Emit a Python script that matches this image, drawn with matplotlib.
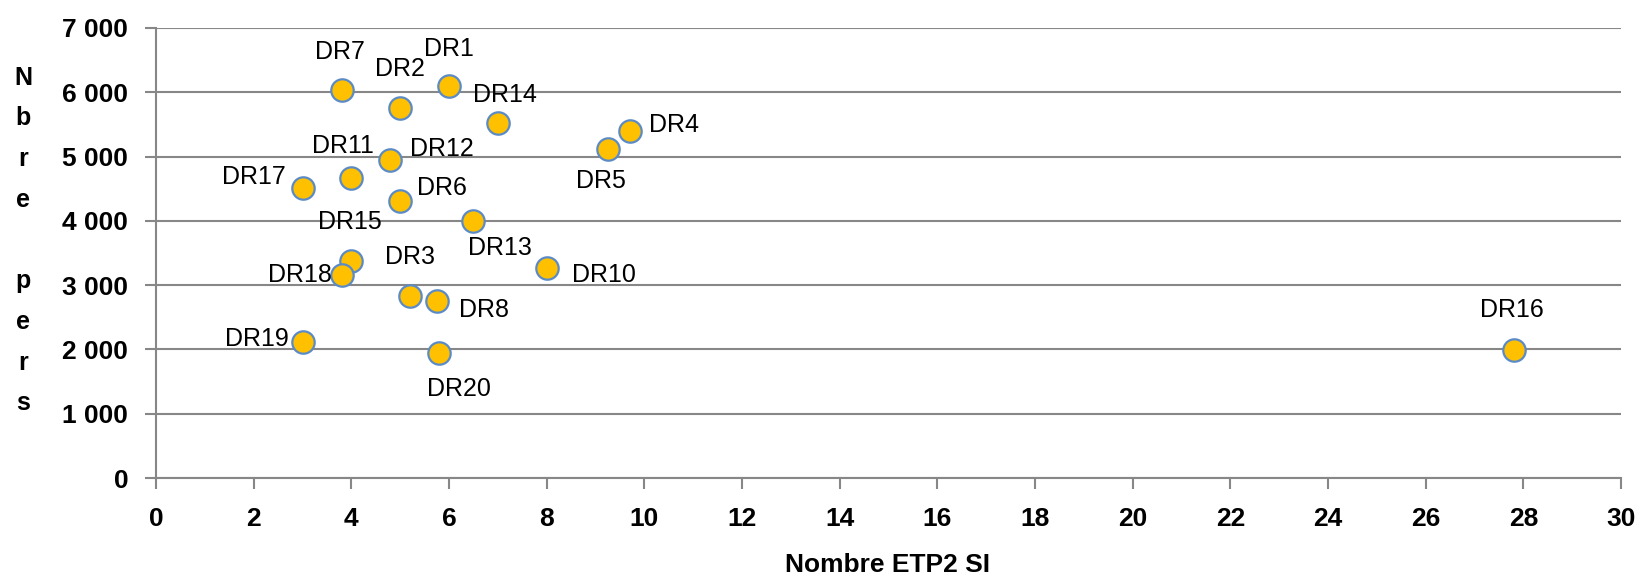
import matplotlib
matplotlib.use("Agg")
import matplotlib.pyplot as plt
from matplotlib.ticker import FuncFormatter

# data
labels = ["DR7", "DR1", "DR2", "DR14", "DR4", "DR5", "DR12", "DR11", "DR17", "DR6",
          "DR13", "DR15", "DR18", "DR3", "DR8", "DR10", "DR19", "DR20", "DR16"]
etp = [3.8, 6.0, 5.0, 7.0, 9.7, 9.25, 4.8, 4.0, 3.0, 5.0,
       6.5, 4.0, 3.8, 5.2, 5.75, 8.0, 3.0, 5.8, 27.8]
pers = [6040, 6090, 5760, 5520, 5390, 5110, 4950, 4660, 4510, 4310,
        3990, 3370, 3150, 2830, 2750, 3270, 2120, 1940, 1990]

# label offsets (points) from each marker
label_dx = [-1, 0, 0, 5, 32, -5, 37, -6, -35, 30, 19, -1, -30, 0, 34, 41, -33, 14, -1]
label_dy = [27, 27, 28, 20, 5, -23, 8, 23, 8, 9, -19, 28, 0, 28, -6, -5, 2, -26, 29]

plt.rcParams['font.family'] = ["Liberation Sans", "DejaVu Sans"]

GRID = "#878787"

fig = plt.figure(figsize=(16.41, 5.78), dpi=100)
ax = fig.add_axes([0.0951, 0.173, 0.8927, 0.7786])

ax.scatter(etp, pers, s=260, color="#FFC000", edgecolors="#5B8BC7",
           linewidths=1.6, zorder=3)

for name, x, y, dx, dy in zip(labels, etp, pers, label_dx, label_dy):
    ax.annotate(name, (x, y), xytext=(dx, dy), textcoords="offset points",
                ha="center", va="center", fontsize=18, color="black", zorder=4)

ax.set_xlim(0, 30)
ax.set_ylim(0, 7000)
ax.set_xticks(range(0, 31, 2))
ax.set_yticks(range(0, 7001, 1000))
ax.yaxis.set_major_formatter(FuncFormatter(lambda v, p: f"{int(v):,}".replace(",", " ")))

ax.grid(axis="y", color=GRID, linewidth=1.5, zorder=0)
ax.set_axisbelow(True)
for side in ["top", "right"]:
    ax.spines[side].set_visible(False)
for side in ["left", "bottom"]:
    ax.spines[side].set_color(GRID)
    ax.spines[side].set_linewidth(1.5)

ax.tick_params(axis="x", direction="out", length=8, width=1.5, color=GRID, pad=13,
               labelsize=19)
ax.tick_params(axis="y", direction="out", length=8, width=1.5, color=GRID, pad=12,
               labelsize=19)
for t in ax.get_xticklabels() + ax.get_yticklabels():
    t.set_fontweight("bold")

fig.text(0.5411, 0.023, "Nombre ETP2 SI", ha="center", va="center",
         fontsize=19, fontweight="bold")
fig.text(0.014, 0.584, "N\nb\nr\ne\n\np\ne\nr\ns", ha="center", va="center",
         fontsize=18, fontweight="bold", linespacing=1.88)

fig.savefig("out.png", dpi=100)
